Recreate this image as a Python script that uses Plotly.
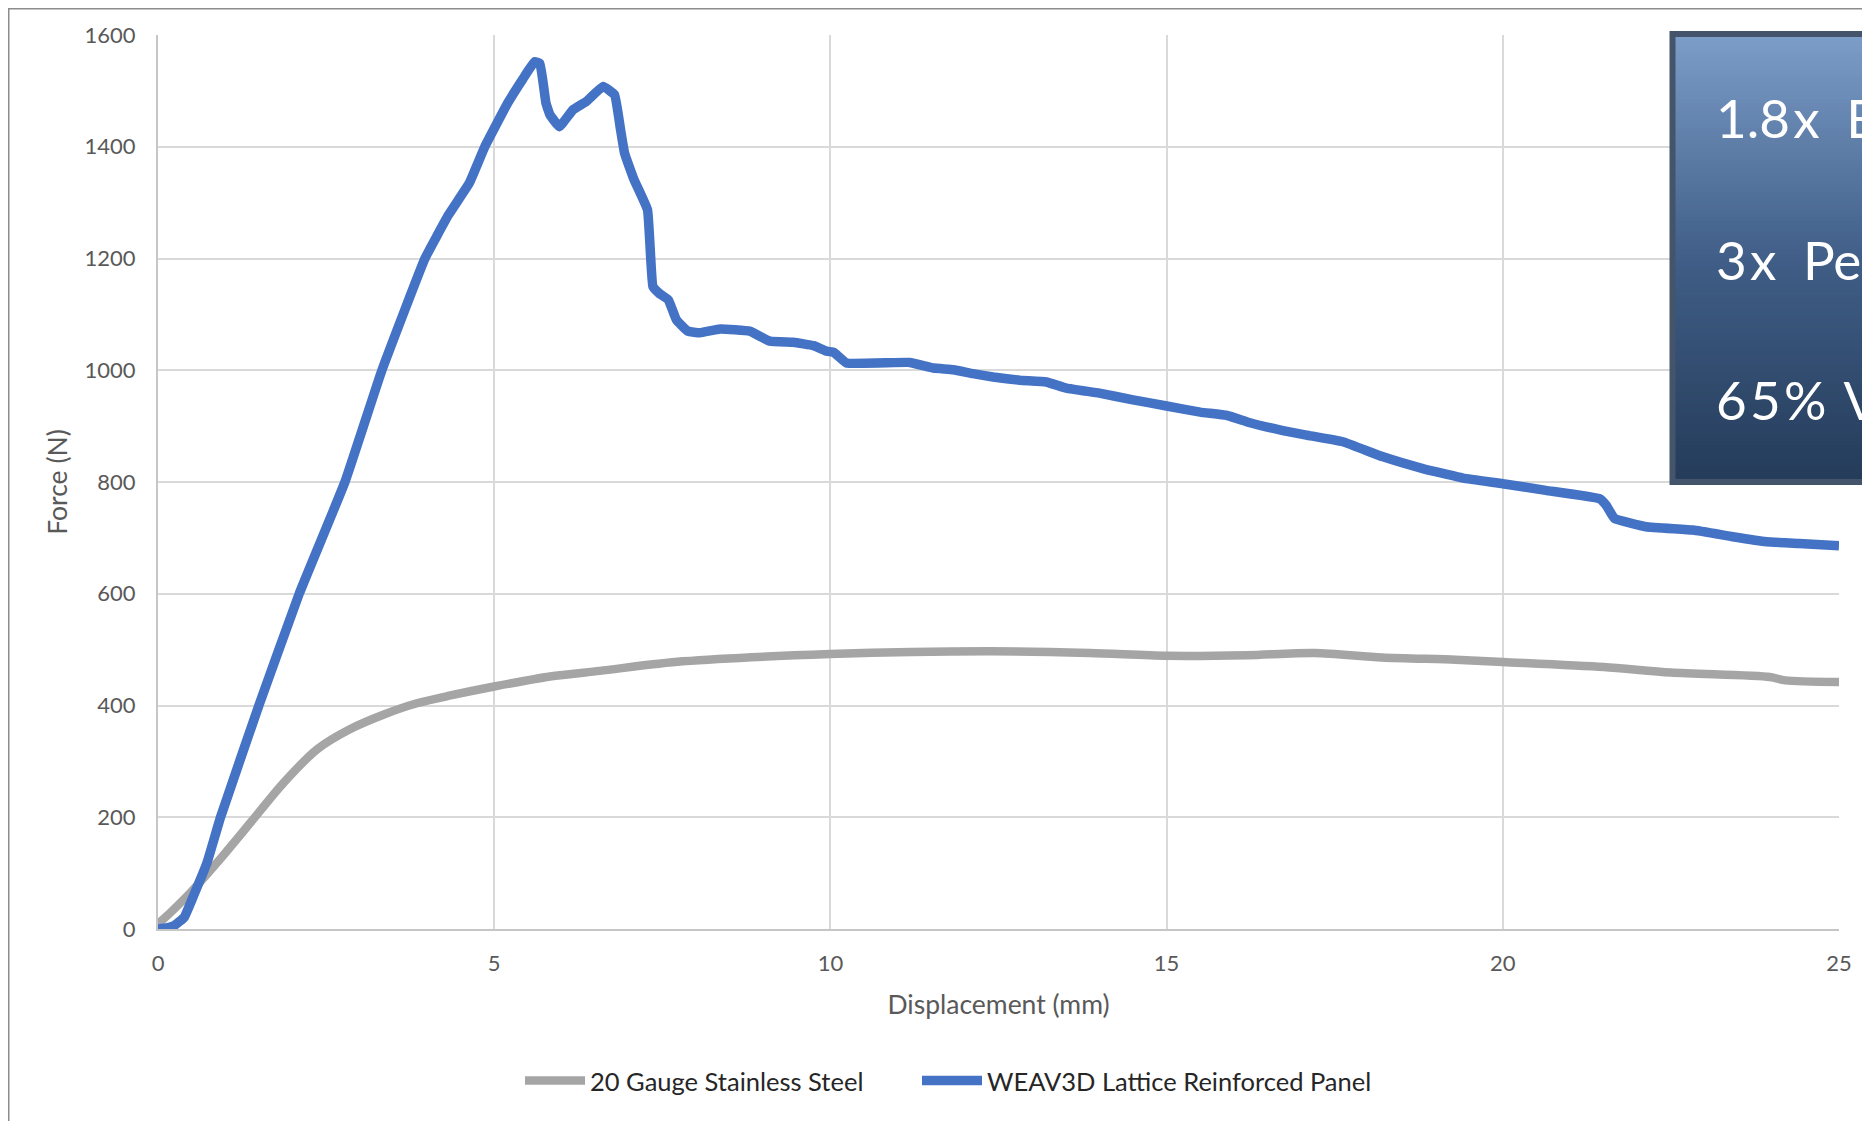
import plotly.graph_objects as go

# ---------------- data ----------------
steel_x = [0, 0.19, 0.49, 0.88, 1.38, 1.87, 2.37, 2.86, 3.36, 3.85, 4.35, 5.0, 5.83, 6.57,
           7.8, 10.0, 12.35, 13.86, 15.0, 16.2, 17.2, 18.2, 19.3, 20.0, 21.5, 22.5, 23.97,
           24.2, 25.0]
steel_y = [9, 30, 66, 119, 191, 262, 322, 358, 384, 404, 418, 434, 452, 462,
           479, 492, 497, 494, 489, 490, 494, 486, 482, 478, 469, 459, 451,
           445, 442]

weav_x = [0, 0.13, 0.24, 0.39, 0.53, 0.73, 0.93, 1.5, 2.1, 2.78, 3.33, 3.97, 4.32, 4.63,
          4.86, 5.2, 5.43, 5.6, 5.68, 5.77, 5.83, 5.97, 6.17, 6.37, 6.62, 6.79, 6.88,
          6.94, 7.08, 7.28, 7.36, 7.45, 7.59, 7.71, 7.88, 8.06, 8.36, 8.8, 9.1, 9.45,
          9.75, 9.95, 10.05, 10.24, 11.18, 11.53, 11.83, 12.12, 12.42, 12.82, 13.21,
          13.51, 14.0, 14.5, 15.0, 15.5, 15.9, 16.24, 16.73, 17.08, 17.62, 18.22,
          18.81, 19.41, 20.0, 20.64, 21.44, 21.54, 21.66, 22.13, 22.83, 23.42, 23.92,
          24.41, 25.0]
weav_y = [0, 2, 6, 21, 60, 119, 200, 400, 600, 800, 1000, 1200, 1278, 1335,
          1400, 1478, 1522, 1552, 1549, 1478, 1457, 1436, 1466, 1481, 1508, 1493, 1430,
          1388, 1341, 1287, 1150, 1138, 1126, 1090, 1070, 1067, 1074, 1070, 1052, 1050,
          1044, 1034, 1032, 1013, 1014, 1004, 1001, 994, 988, 982, 979,
          968, 959, 947, 936, 925, 919, 906, 892, 884, 872, 845,
          824, 807, 797, 785, 770, 758, 735, 720, 714, 702, 693,
          690, 686]

series_names = ["20 Gauge Stainless Steel", "WEAV3D Lattice Reinforced Panel"]
x_ticks = [0, 5, 10, 15, 20, 25]
y_ticks = [0, 200, 400, 600, 800, 1000, 1200, 1400, 1600]
callouts = ["1.8\u200ax\u2002E", "3\u200ax\u2002Pe", "6\u200a5\u200a% \u200aV"]

# ---------------- layout geometry (figure pixels; page has an 8px body margin) ----------------
OFF = 8
W, H = 1870, 1121 - OFF
L, R, T, B = 158 - OFF, 1839 - OFF, 35 - OFF, 929 - OFF
PW, PH = R - L, B - T


def px(xp):
    return (xp - OFF - L) / PW


def py(yp):
    return (B - (yp - OFF)) / PH


FONT = "Lato, 'Open Sans', Arial, sans-serif"

fig = go.Figure()
fig.add_trace(go.Scatter(x=steel_x, y=steel_y, mode="lines", name=series_names[0],
                         legend="legend",
                         line=dict(color="#A5A5A5", width=8.5, shape="spline", smoothing=0.8)))
fig.add_trace(go.Scatter(x=weav_x, y=weav_y, mode="lines", name=series_names[1],
                         legend="legend2",
                         line=dict(color="#4472C4", width=9.5, shape="spline", smoothing=0.3)))

shapes = []
# outer chart border (left and top visible)
shapes.append(dict(type="line", xref="paper", yref="paper", x0=px(OFF + 0.75), x1=px(OFF + 0.75),
                   y0=py(OFF), y1=py(1130), line=dict(color="#8C8C8C", width=1.5), layer="above"))
shapes.append(dict(type="line", xref="paper", yref="paper", x0=px(OFF), x1=px(1880),
                   y0=py(OFF + 0.75), y1=py(OFF + 0.75), line=dict(color="#8C8C8C", width=1.5),
                   layer="above"))

# gradient call-out box
top_c = (123, 157, 200)
mid_c = (64, 94, 135)
bot_c = (37, 60, 90)
y_top, y_bot = 34, 482
n = 110
for i in range(n):
    t = i / (n - 1)
    if t < 0.5:
        u = t / 0.5
        c = [round(top_c[k] + (mid_c[k] - top_c[k]) * u) for k in range(3)]
    else:
        u = (t - 0.5) / 0.5
        c = [round(mid_c[k] + (bot_c[k] - mid_c[k]) * u) for k in range(3)]
    ya = y_top + (y_bot - y_top) * i / n
    yb = min(y_top + (y_bot - y_top) * (i + 1) / n + 1.5, y_bot)
    shapes.append(dict(type="rect", xref="paper", yref="paper", x0=px(1672), x1=px(1900),
                       y0=py(yb), y1=py(ya), fillcolor="rgb(%d,%d,%d)" % tuple(c),
                       line=dict(width=0), layer="above"))
shapes.append(dict(type="rect", xref="paper", yref="paper", x0=px(1672.5), x1=px(1900),
                   y0=py(482), y1=py(34), fillcolor="rgba(0,0,0,0)",
                   line=dict(color="#44546A", width=6), layer="above"))

annotations = []
for txt, yc in zip(callouts, [118, 259, 400]):
    annotations.append(dict(text=txt, xref="paper", yref="paper", x=px(1714), y=py(yc),
                            xanchor="left", yanchor="middle", showarrow=False,
                            font=dict(family=FONT, size=53, color="white")))

legend_style = dict(orientation="h", xanchor="left", yanchor="middle", itemwidth=60,
                    font=dict(family=FONT, size=25.5, color="#262626"),
                    bgcolor="rgba(0,0,0,0)")

fig.update_layout(
    width=W, height=H,
    margin=dict(l=L, r=W - R, t=T, b=H - B),
    paper_bgcolor="white", plot_bgcolor="white",
    font=dict(family=FONT, color="#595959"),
    showlegend=True,
    legend=dict(x=px(520), y=py(1081), **legend_style),
    legend2=dict(x=px(917), y=py(1081), **legend_style),
    shapes=shapes,
    annotations=annotations,
)
fig.update_xaxes(range=[0, 25], tickvals=x_ticks, ticks="", showgrid=True, gridcolor="#D9D9D9",
                 gridwidth=2, zeroline=False, showline=True, linecolor="#C6C6C6", linewidth=2,
                 tickfont=dict(size=22, color="#595959"), ticklabelstandoff=14,
                 title=dict(text="Displacement (mm)", font=dict(size=26.5, color="#595959"), standoff=20))
fig.update_yaxes(range=[0, 1600], tickvals=y_ticks, ticks="", showgrid=True, gridcolor="#D9D9D9",
                 gridwidth=2, zeroline=False, showline=True, linecolor="#C6C6C6", linewidth=2,
                 tickfont=dict(size=22, color="#595959"), ticklabelstandoff=16,
                 title=dict(text="Force (N)", font=dict(size=26.5, color="#595959"), standoff=9))

fig.write_html("out.html")
